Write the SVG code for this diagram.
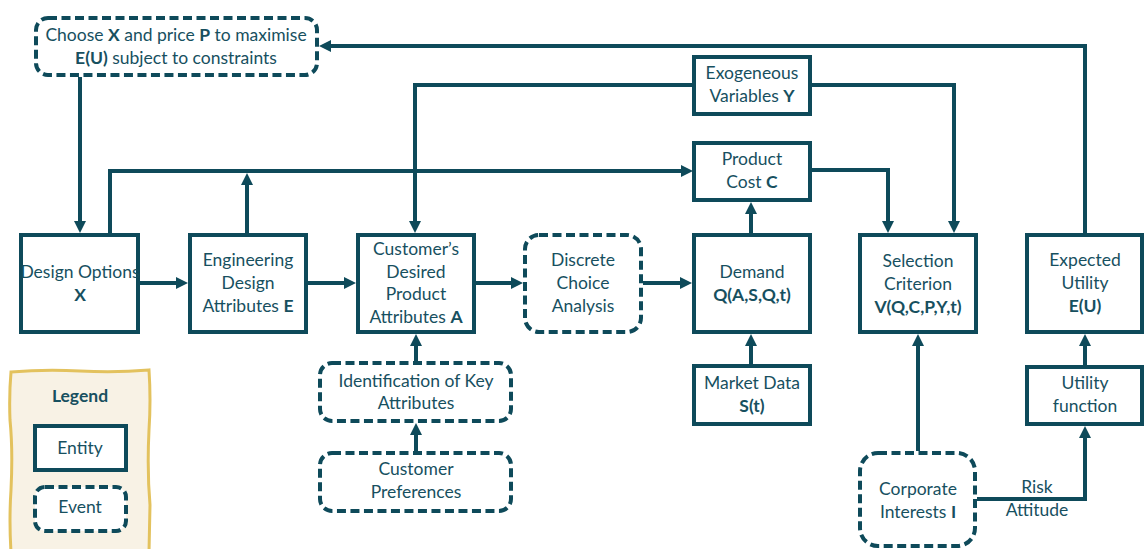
<svg xmlns="http://www.w3.org/2000/svg" width="1145" height="549" viewBox="0 0 1145 549">
  <style>
    .box { fill: #ffffff; stroke: #0e4a5a; stroke-width: 4; }
    .evt { fill: #ffffff; stroke: #0e4a5a; stroke-width: 4; stroke-dasharray: 9 4.5; }
    .wire { fill: none; stroke: #0e4a5a; stroke-width: 4; marker-end: url(#arrow); }
    text { font-family: Lato, "Liberation Sans", sans-serif; font-size: 17.5px; fill: #17505f; text-anchor: middle; }
    .b { font-weight: bold; }
  </style>
  <defs>
    <marker id="arrow" viewBox="0 0 12 12" refX="7" refY="6" markerWidth="12" markerHeight="12" markerUnits="userSpaceOnUse" orient="auto">
      <path d="M0,0 L12,6 L0,12 Z" fill="#0e4a5a"/>
    </marker>
  </defs>

  <!-- legend panel -->
  <g id="legend">
    <path d="M11,372 Q45,369 80,371 T149,370 Q151,400 149,430 Q147,470 150,505 L149,552 L11,552 Q9,520 11,490 Q13,450 10,420 Q9,395 11,372 Z" fill="#f8f2e5" stroke="#e3c25e" stroke-width="3"/>
    <text x="80" y="402" class="b">Legend</text>
    <rect class="box" x="35" y="426" width="91" height="44"/>
    <text x="80" y="454">Entity</text>
    <rect class="evt" x="35" y="487" width="91" height="44" rx="10"/>
    <text x="80" y="513">Event</text>
  </g>

  <!-- connectors -->
  <g id="connectors">
    <path class="wire" d="M1085,233 V46 H324"/>
    <path class="wire" d="M80,77 V228"/>
    <path class="wire" d="M110,233 V171 H688"/>
    <path class="wire" d="M247,233 V178"/>
    <path class="wire" d="M139,283 H183"/>
    <path class="wire" d="M306,283 H351"/>
    <path class="wire" d="M476,283 H518"/>
    <path class="wire" d="M643,283 H687"/>
    <path class="wire" d="M692,85 H415 V228"/>
    <path class="wire" d="M812,85 H954 V228"/>
    <path class="wire" d="M812,170 H888 V228"/>
    <path class="wire" d="M751,233 V207"/>
    <path class="wire" d="M751,364 V339"/>
    <path class="wire" d="M416,361 V339"/>
    <path class="wire" d="M416,451 V428"/>
    <path class="wire" d="M918,451 V339"/>
    <path class="wire" d="M1085,365 V339"/>
    <path class="wire" d="M977,499 H1085 V431"/>
    <text x="1037" y="493">Risk</text>
    <text x="1037" y="516">Attitude</text>
  </g>

  <!-- nodes -->
  <g id="choose">
    <rect class="evt" x="36" y="18" width="281" height="57" rx="12"/>
    <text x="176" y="41">Choose <tspan class="b">X</tspan> and price <tspan class="b">P</tspan> to maximise</text>
    <text x="176" y="64"><tspan class="b">E(U)</tspan> subject to constraints</text>
  </g>
  <g id="design-options">
    <rect class="box" x="21" y="235" width="117" height="97"/>
    <text x="80" y="278">Design Options</text>
    <text x="80" y="301" class="b">X</text>
  </g>
  <g id="engineering">
    <rect class="box" x="190" y="235" width="116" height="97"/>
    <text x="248" y="266">Engineering</text>
    <text x="248" y="289">Design</text>
    <text x="248" y="312">Attributes <tspan class="b">E</tspan></text>
  </g>
  <g id="customer-attributes">
    <rect class="box" x="358" y="235" width="116" height="97"/>
    <text x="416" y="255">Customer’s</text>
    <text x="416" y="278">Desired</text>
    <text x="416" y="300">Product</text>
    <text x="416" y="323">Attributes <tspan class="b">A</tspan></text>
  </g>
  <g id="discrete-choice">
    <rect class="evt" x="525" y="235" width="116" height="97" rx="14"/>
    <text x="583" y="266">Discrete</text>
    <text x="583" y="289">Choice</text>
    <text x="583" y="312">Analysis</text>
  </g>
  <g id="demand">
    <rect class="box" x="694" y="235" width="116" height="97"/>
    <text x="752" y="278">Demand</text>
    <text x="752" y="301" class="b">Q(A,S,Q,t)</text>
  </g>
  <g id="selection">
    <rect class="box" x="860" y="235" width="116" height="97"/>
    <text x="918" y="267">Selection</text>
    <text x="918" y="290">Criterion</text>
    <text x="918" y="313" class="b">V(Q,C,P,Y,t)</text>
  </g>
  <g id="expected-utility">
    <rect class="box" x="1027" y="235" width="115" height="97"/>
    <text x="1085" y="266">Expected</text>
    <text x="1085" y="289">Utility</text>
    <text x="1085" y="312" class="b">E(U)</text>
  </g>
  <g id="exogenous">
    <rect class="box" x="694" y="57" width="116" height="57"/>
    <text x="752" y="79">Exogeneous</text>
    <text x="752" y="102">Variables <tspan class="b">Y</tspan></text>
  </g>
  <g id="product-cost">
    <rect class="box" x="694" y="143" width="116" height="57"/>
    <text x="752" y="165">Product</text>
    <text x="752" y="188">Cost <tspan class="b">C</tspan></text>
  </g>
  <g id="market-data">
    <rect class="box" x="694" y="366" width="116" height="58"/>
    <text x="752" y="389">Market Data</text>
    <text x="752" y="412" class="b">S(t)</text>
  </g>
  <g id="key-attributes">
    <rect class="evt" x="320" y="363" width="191" height="58" rx="12"/>
    <text x="416" y="387">Identification of Key</text>
    <text x="416" y="409">Attributes</text>
  </g>
  <g id="customer-preferences">
    <rect class="evt" x="320" y="453" width="191" height="58" rx="12"/>
    <text x="416" y="475">Customer</text>
    <text x="416" y="498">Preferences</text>
  </g>
  <g id="corporate-interests">
    <rect class="evt" x="860" y="453" width="115" height="93" rx="18"/>
    <text x="918" y="495">Corporate</text>
    <text x="918" y="518">Interests <tspan class="b">I</tspan></text>
  </g>
  <g id="utility-function">
    <rect class="box" x="1027" y="367" width="115" height="57"/>
    <text x="1085" y="389">Utility</text>
    <text x="1085" y="412">function</text>
  </g>
</svg>
